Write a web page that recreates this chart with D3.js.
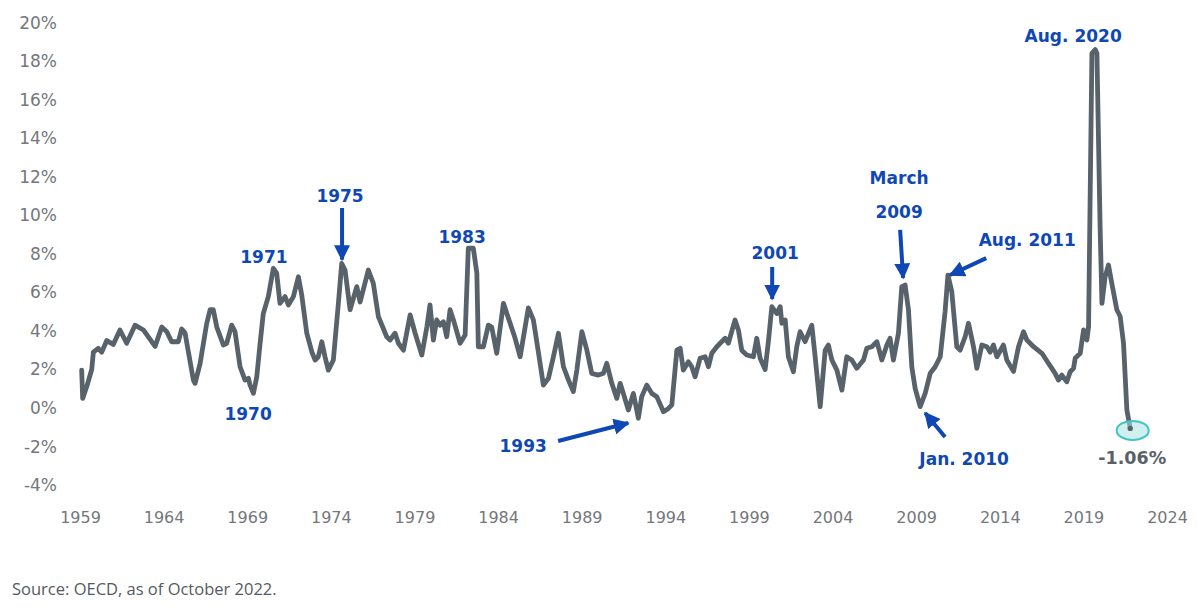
<!DOCTYPE html>
<html>
<head>
<meta charset="utf-8">
<script src="https://cdnjs.cloudflare.com/ajax/libs/d3/7.8.5/d3.min.js"></script>
<style>
  body { margin: 0; background: #fff; }
  svg { display: block; }
</style>
</head>
<body>
<svg id="chart" width="1200" height="610"></svg>
<script>
// series (decimal year, % change)
var years = [
  1959.10, 1959.16, 1959.40, 1959.70, 1959.80, 1960.09, 1960.30, 1960.60, 1960.99, 1961.39,
  1961.79, 1962.29, 1962.79, 1963.49, 1963.89, 1964.19, 1964.48, 1964.88, 1965.08, 1965.28,
  1965.78, 1965.88, 1966.18, 1966.58, 1966.78, 1966.97, 1967.18, 1967.57, 1967.77, 1968.07,
  1968.27, 1968.57, 1968.87, 1969.07, 1969.17, 1969.37, 1969.57, 1969.77, 1969.96, 1970.26,
  1970.56, 1970.76, 1970.96, 1971.26, 1971.46, 1971.76, 1972.06, 1972.26, 1972.56, 1972.86,
  1973.06, 1973.25, 1973.46, 1973.65, 1973.85, 1974.15, 1974.45, 1974.65, 1974.85, 1975.15,
  1975.55, 1975.75, 1976.24, 1976.54, 1976.84, 1977.34, 1977.54, 1977.84, 1978.04, 1978.34,
  1978.74, 1979.04, 1979.44, 1979.74, 1979.93, 1980.13, 1980.33, 1980.53, 1980.73, 1980.93,
  1981.13, 1981.33, 1981.53, 1981.73, 1982.03, 1982.22, 1982.52, 1982.73, 1982.82, 1983.12,
  1983.42, 1983.62, 1983.92, 1984.32, 1984.72, 1985.02, 1985.32, 1985.81, 1986.11, 1986.41,
  1986.71, 1987.01, 1987.31, 1987.61, 1987.91, 1988.21, 1988.50, 1988.71, 1989.01, 1989.31,
  1989.60, 1990.00, 1990.30, 1990.50, 1990.80, 1991.10, 1991.30, 1991.49, 1991.79, 1992.09,
  1992.39, 1992.59, 1992.89, 1993.19, 1993.49, 1993.89, 1994.19, 1994.39, 1994.69, 1994.89,
  1995.08, 1995.38, 1995.58, 1995.78, 1996.08, 1996.38, 1996.58, 1996.78, 1997.08, 1997.28,
  1997.58, 1997.77, 1998.17, 1998.37, 1998.57, 1998.87, 1999.27, 1999.47, 1999.67, 1999.97,
  2000.17, 2000.37, 2000.67, 2000.87, 2000.97, 2001.17, 2001.36, 2001.66, 2001.86, 2002.06,
  2002.36, 2002.76, 2002.96, 2003.26, 2003.56, 2003.75, 2003.96, 2004.26, 2004.56, 2004.85,
  2005.15, 2005.45, 2005.85, 2006.05, 2006.35, 2006.65, 2006.95, 2007.25, 2007.44, 2007.64,
  2007.94, 2008.14, 2008.34, 2008.54, 2008.74, 2008.94, 2009.24, 2009.54, 2009.84, 2010.14,
  2010.44, 2010.73, 2010.90, 2011.13, 2011.43, 2011.63, 2011.93, 2012.13, 2012.43, 2012.63,
  2012.93, 2013.23, 2013.43, 2013.62, 2013.83, 2014.22, 2014.42, 2014.82, 2015.12, 2015.42,
  2015.62, 2016.02, 2016.52, 2016.91, 2017.31, 2017.51, 2017.71, 2018.01, 2018.21, 2018.41,
  2018.51, 2018.81, 2019.01, 2019.21, 2019.31, 2019.51, 2019.71, 2019.81, 2020.00, 2020.11,
  2020.30, 2020.50, 2020.70, 2021.00, 2021.20, 2021.40, 2021.60, 2021.80
];
var values = [
  1.97, 0.5, 1.1, 2.0, 2.9, 3.1, 2.9, 3.5, 3.3, 4.05,
  3.36, 4.3, 4.05, 3.2, 4.2, 3.96, 3.44, 3.44, 4.1, 3.9,
  1.45, 1.28, 2.3, 4.4, 5.1, 5.1, 4.2, 3.27, 3.36, 4.3,
  3.96, 2.14, 1.45, 1.54, 1.19, 0.76, 1.62, 3.36, 4.9, 5.78,
  7.25, 7.0, 5.43, 5.78, 5.35, 5.78, 6.81, 5.86, 3.88, 2.92,
  2.49, 2.66, 3.44, 2.66, 1.97, 2.49, 5.43, 7.5, 7.16, 5.1,
  6.3, 5.5, 7.16, 6.47, 4.75, 3.7, 3.53, 3.88, 3.36, 3.0,
  4.83, 3.88, 2.75, 4.2, 5.35, 3.53, 4.57, 4.3, 4.48, 3.7,
  5.1, 4.57, 3.96, 3.36, 3.79, 8.29, 8.29, 7.0, 3.18, 3.18,
  4.3, 4.2, 2.84, 5.43, 4.4, 3.62, 2.66, 5.2, 4.57, 2.9,
  1.19, 1.54, 2.66, 3.88, 2.14, 1.45, 0.85, 1.97, 3.96, 3.0,
  1.8, 1.71, 1.8, 2.32, 1.28, 0.5, 1.28, 0.76, -0.1, 0.76,
  -0.53, 0.59, 1.19, 0.76, 0.59, -0.19, -0.02, 0.16, 3.0, 3.1,
  1.97, 2.4, 2.14, 1.62, 2.58, 2.66, 2.14, 2.84, 3.18, 3.36,
  3.62, 3.36, 4.57, 4.05, 3.0, 2.75, 2.66, 3.62, 2.58, 2.0,
  3.5, 5.26, 4.9, 5.26, 4.4, 4.57, 2.66, 1.88, 3.18, 3.96,
  3.44, 4.3, 2.66, 0.07, 3.0, 3.27, 2.49, 1.97, 0.93, 2.66,
  2.49, 2.06, 2.49, 3.1, 3.18, 3.44, 2.49, 3.27, 3.62, 2.49,
  3.88, 6.3, 6.38, 5.1, 2.14, 1.02, 0.07, 0.76, 1.8, 2.14,
  2.66, 5.0, 6.9, 6.04, 3.18, 3.0, 3.7, 4.4, 3.18, 2.06,
  3.27, 3.18, 2.9, 3.27, 2.66, 3.27, 2.49, 1.9, 3.18, 3.96,
  3.53, 3.18, 2.84, 2.32, 1.8, 1.45, 1.71, 1.36, 1.88, 2.06,
  2.58, 2.84, 4.05, 3.53, 4.22, 18.4, 18.6, 18.4, 9.4, 5.43,
  6.81, 7.42, 6.47, 5.1, 4.75, 3.36, -0.1, -1.06
];

var xTicks = [1959, 1964, 1969, 1974, 1979, 1984, 1989, 1994, 1999, 2004, 2009, 2014, 2019, 2024];
var yTicks = [-4, -2, 0, 2, 4, 6, 8, 10, 12, 14, 16, 18, 20];

// callouts, anchored in chart units
var notes = [
  {text: "1971", year: 1970.0, pct: 7.84},
  {text: "1970", year: 1969.05, pct: -0.31},
  {text: "1975", year: 1974.55, pct: 11.0},
  {text: "1983", year: 1981.85, pct: 8.87},
  {text: "1993", year: 1985.5, pct: -1.97},
  {text: "2001", year: 2000.57, pct: 8.04},
  {text: "March", year: 2007.98, pct: 11.94},
  {text: "2009", year: 2007.98, pct: 10.17},
  {text: "Aug. 2011", year: 2015.64, pct: 8.72},
  {text: "Jan. 2010", year: 2011.87, pct: -2.65},
  {text: "Aug. 2020", year: 2018.39, pct: 19.3}
];
var arrows = [
  {y0: 1974.67, v0: 10.38, y1: 1974.67, v1: 7.7},
  {y0: 1987.59, v0: -1.71, y1: 1991.78, v1: -0.78},
  {y0: 2000.39, v0: 7.32, y1: 2000.39, v1: 5.66},
  {y0: 2008.04, v0: 9.24, y1: 2008.22, v1: 6.75},
  {y0: 2013.19, v0: 7.78, y1: 2011.03, v1: 6.9},
  {y0: 2010.73, v0: -1.5, y1: 2009.54, v1: -0.26}
];

var svg = d3.select("#chart");

var x = d3.scaleLinear().domain([1959, 2024]).range([80, 1167]);
var y = d3.scaleLinear().domain([-4, 20]).range([485.1, 22.6]);

var data = years.map(function(d, i) { return {year: d, pct: values[i]}; });

// y axis labels
svg.append("g")
  .attr("transform", "translate(57,0)")
  .call(d3.axisLeft(y).tickValues(yTicks).tickSize(0).tickPadding(0)
        .tickFormat(function(d) { return d + "%"; }))
  .call(function(g) {
    g.select(".domain").remove();
    g.selectAll("text")
      .attr("font-family", "DejaVu Sans")
      .attr("font-size", 17)
      .attr("fill", "#74777b");
  });

// x axis labels
svg.append("g")
  .attr("transform", "translate(0,512)")
  .call(d3.axisBottom(x).tickValues(xTicks).tickSize(0).tickPadding(0)
        .tickFormat(d3.format("d")))
  .call(function(g) {
    g.select(".domain").remove();
    g.selectAll("text")
      .attr("font-family", "DejaVu Sans")
      .attr("font-size", 16)
      .attr("fill", "#74777b");
  });

var line = d3.line()
  .x(function(d) { return x(d.year); })
  .y(function(d) { return y(d.pct); });

svg.append("path")
  .datum(data)
  .attr("d", line)
  .attr("fill", "none")
  .attr("stroke", "#58626b")
  .attr("stroke-width", 4.8)
  .attr("stroke-linejoin", "round")
  .attr("stroke-linecap", "round");

// last point highlight
var last = data[data.length - 1];
svg.append("ellipse")
  .attr("cx", x(last.year) + 2.5)
  .attr("cy", y(last.pct) + 2)
  .attr("rx", 16)
  .attr("ry", 9.5)
  .attr("fill", "#a9e4e4")
  .attr("fill-opacity", 0.55)
  .attr("stroke", "#3fc6c0")
  .attr("stroke-width", 2);

svg.append("circle")
  .attr("cx", x(last.year))
  .attr("cy", y(last.pct))
  .attr("r", 2.6)
  .attr("fill", "#58626b");

svg.append("text")
  .attr("x", x(last.year) + 2)
  .attr("y", y(last.pct) + 29)
  .attr("dy", "0.35em")
  .attr("text-anchor", "middle")
  .attr("font-family", "DejaVu Sans")
  .attr("font-weight", "bold")
  .attr("font-size", 17.5)
  .attr("fill", "#5b6066")
  .text(d3.format(".2f")(last.pct).replace("\u2212", "-") + "%");

// arrows
svg.append("defs").append("marker")
  .attr("id", "head")
  .attr("viewBox", "0 0 10 10")
  .attr("refX", 9)
  .attr("refY", 5)
  .attr("markerWidth", 4)
  .attr("markerHeight", 4)
  .attr("markerUnits", "strokeWidth")
  .attr("orient", "auto")
  .append("path")
  .attr("d", "M0,0L10,5L0,10Z")
  .attr("fill", "#0f47b5");

svg.selectAll(".arrow")
  .data(arrows)
  .enter().append("line")
  .attr("class", "arrow")
  .attr("x1", function(d) { return x(d.y0); })
  .attr("y1", function(d) { return y(d.v0); })
  .attr("x2", function(d) { return x(d.y1); })
  .attr("y2", function(d) { return y(d.v1); })
  .attr("stroke", "#0f47b5")
  .attr("stroke-width", 4)
  .attr("marker-end", "url(#head)");

svg.selectAll(".note")
  .data(notes)
  .enter().append("text")
  .attr("class", "note")
  .attr("x", function(d) { return x(d.year); })
  .attr("y", function(d) { return y(d.pct); })
  .attr("dy", "0.36em")
  .attr("text-anchor", "middle")
  .attr("font-family", "DejaVu Sans")
  .attr("font-weight", "bold")
  .attr("font-size", 17)
  .attr("fill", "#0f47b5")
  .text(function(d) { return d.text; });

svg.append("text")
  .attr("x", 12)
  .attr("y", 595)
  .attr("font-family", "Open Sans")
  .attr("font-size", 16.5)
  .attr("fill", "#555a60")
  .text("Source: OECD, as of October 2022.");
</script>
</body>
</html>
